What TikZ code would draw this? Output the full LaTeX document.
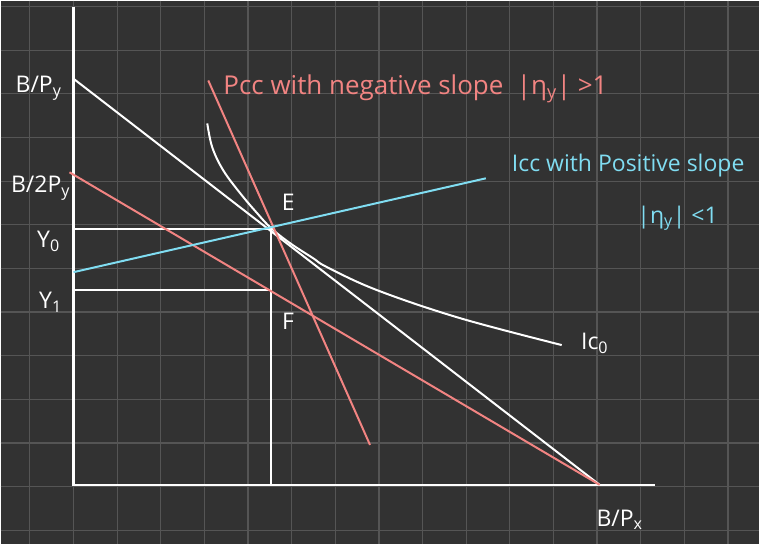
\documentclass[tikz,border=0pt]{standalone}
\usepackage{fontspec}
\setmainfont{Open Sans}
\usetikzlibrary{calc}
\definecolor{board}{HTML}{323232}
\definecolor{gridln}{HTML}{555555}
\definecolor{pccred}{HTML}{F28482}
\definecolor{icccyan}{HTML}{80DDF2}

\begin{document}
\begin{tikzpicture}[x=1pt,y=-1pt,
  axis/.style={draw=white, line width=2.4pt},
  chalk/.style={draw=white, line width=2pt},
  redln/.style={draw=pccred, line width=2pt},
  blueln/.style={draw=icccyan, line width=2pt},
  lbl/.style={text=white, font=\fontsize{23}{26}\selectfont, inner sep=0pt}]
  % board and grid
  \fill[board] (0,0) rectangle (760,544);
  \foreach \i in {0,...,16}
    \draw[gridln, line width=1.2pt] ({29.3+43.7*\i},0) -- ({29.3+43.7*\i},544);
  \foreach \j in {0,...,12}
    \draw[gridln, line width=1.2pt] (0,{6+43.7*\j}) -- (760,{6+43.7*\j});
  % key points
  \coordinate (O) at (73,485);
  \coordinate (top) at (73,6);
  \coordinate (xend) at (655,485);
  \coordinate (By) at (74,79);
  \coordinate (B2y) at (69,172);
  \coordinate (Bx) at (600,485);
  \coordinate (E) at (271,229);
  \coordinate (F) at (271,290);
  \coordinate (Y0) at (73,229);
  \coordinate (Y1) at (73,290);
  \coordinate (Ex) at (271,485);
  \coordinate (pcc1) at (208,80);
  \coordinate (pcc2) at (370,445);
  \coordinate (icc1) at (73,272);
  \coordinate (icc2) at (486,178);
  % axes, drop lines, budget line, indifference curve
  \draw[axis] (top) -- (O) -- (xend);
  \draw[chalk] (Y0) -- (E) -- (Ex);
  \draw[chalk] (Y1) -- (F);
  \draw[chalk] (By) -- (Bx);
  \draw[chalk] plot[smooth, tension=0.6] coordinates {(207,123) (212,147) (223,170) (240,193) (257,213) (271,228) (290,243) (313,258) (327,267) (377,290) (460,318) (562,345)};
  % new budget line and the two consumption curves
  \draw[redln] (B2y) -- (Bx);
  \draw[redln] (pcc1) -- (pcc2);
  \draw[blueln] (icc1) -- (icc2);
  % labels
  \node[lbl] (lBy) at (38,88) {B/P\textsubscript{y}};
  \node[lbl] (lB2y) at (40,188) {B/2P\textsubscript{y}};
  \node[lbl] (lY0) at (48,241) {Y\textsubscript{0}};
  \node[lbl] (lY1) at (50,302) {Y\textsubscript{1}};
  \node[lbl] (lE) at (288,202) {E};
  \node[lbl] (lF) at (288,321) {F};
  \node[lbl] (lIC) at (595,343) {Ic\textsubscript{0}};
  \node[lbl] (lBx) at (620,520) {B/P\textsubscript{x}};
  \node[lbl, text=pccred, anchor=west, font=\fontsize{26}{28}\selectfont] (lPCC) at (223,88) {Pcc with negative slope \ |η\textsubscript{y}| >1};
  \node[lbl, text=icccyan, anchor=west] (lICC) at (512,165) {Icc with Positive slope};
  \node[lbl, text=icccyan] (lEta) at (678,218) {|η\textsubscript{y}| <1};
\end{tikzpicture}
\end{document}
